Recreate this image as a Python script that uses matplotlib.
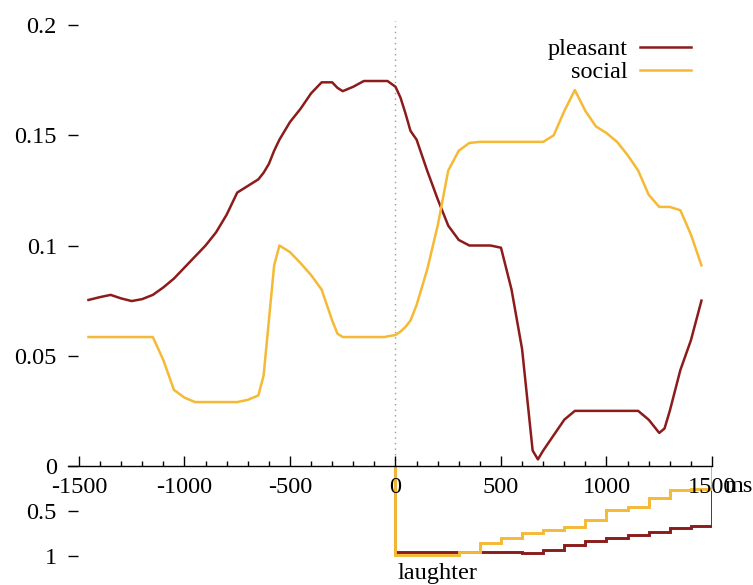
import numpy as np
import matplotlib
matplotlib.use("Agg")
import matplotlib.pyplot as plt

plt.rcParams['font.family'] = ['Liberation Serif', 'DejaVu Serif']
plt.rcParams['axes.unicode_minus'] = False

# time axis (ms) for the smoothed curves
t = [-1455, -1400, -1350, -1300, -1250, -1200, -1150, -1100, -1050, -1000,
     -950, -900, -850, -800, -750, -700, -650, -625, -600, -575, -550, -500,
     -450, -400, -350, -300, -275, -250, -200, -150, -100, -50, -38, 0, 24,
     47, 71, 100, 150, 200, 250, 300, 350, 400, 450, 500, 550, 600, 625, 650,
     675, 700, 750, 800, 850, 900, 950, 1000, 1050, 1100, 1150, 1200, 1250,
     1275, 1300, 1350, 1400, 1450]

pleasant = [0.0753, 0.0766, 0.0776, 0.076, 0.0748, 0.0757, 0.0776, 0.081,
            0.085, 0.090, 0.095, 0.100, 0.106, 0.114, 0.124, 0.127, 0.130,
            0.133, 0.137, 0.143, 0.148, 0.156, 0.162, 0.169, 0.174, 0.174,
            0.1715, 0.170, 0.172, 0.1746, 0.1746, 0.1746, 0.1746, 0.172,
            0.167, 0.160, 0.152, 0.148, 0.134, 0.121, 0.109, 0.1025, 0.100,
            0.100, 0.100, 0.099, 0.080, 0.053, 0.030, 0.007, 0.003, 0.007,
            0.014, 0.021, 0.025, 0.025, 0.025, 0.025, 0.025, 0.025, 0.025,
            0.021, 0.015, 0.017, 0.025, 0.0435, 0.057, 0.075]

social = [0.0585, 0.0585, 0.0585, 0.0585, 0.0585, 0.0585, 0.0585, 0.048,
          0.0345, 0.031, 0.029, 0.029, 0.029, 0.029, 0.029, 0.030, 0.032,
          0.041, 0.066, 0.091, 0.100, 0.097, 0.092, 0.0866, 0.080, 0.066,
          0.060, 0.0585, 0.0585, 0.0585, 0.0585, 0.0585, 0.0588, 0.0594,
          0.061, 0.063, 0.066, 0.073, 0.089, 0.109, 0.134, 0.143, 0.1465,
          0.147, 0.147, 0.147, 0.147, 0.147, 0.147, 0.147, 0.147, 0.147,
          0.150, 0.161, 0.1705, 0.161, 0.154, 0.151, 0.147, 0.141, 0.134,
          0.123, 0.1175, 0.1175, 0.1175, 0.116, 0.105, 0.091]

# laughter histograms, 100 ms bins from 0 to 1500
bin_edges = list(range(0, 1600, 100))
laugh_pleasant = [0.95, 0.95, 0.95, 0.95, 0.95, 0.95, 0.97, 0.93, 0.88,
                  0.83, 0.80, 0.77, 0.73, 0.69, 0.67]
laugh_social = [0.99, 0.99, 0.99, 0.95, 0.86, 0.80, 0.74, 0.71, 0.68,
                0.60, 0.49, 0.45, 0.36, 0.27, 0.25]

red = '#8c1c1c'
yellow = '#f5b935'
fs = 17.5

fig = plt.figure(figsize=(7.53, 5.85), dpi=100)
ax = fig.add_axes([68 / 753, 119 / 585, 644 / 753, 441 / 585])
axb = fig.add_axes([68 / 753, 0, 644 / 753, 119 / 585], sharex=ax)
axb.patch.set_visible(False)
ax.set_zorder(2)
ax.patch.set_visible(False)

ax.plot(t, pleasant, color=red, lw=1.8, label='pleasant')
ax.plot(t, social, color=yellow, lw=1.8, label='social')
ax.axvline(0, ymin=0, ymax=1.01, color='#999999', lw=1, ls=(0, (1, 3)),
           clip_on=False, zorder=0)

ax.set_xlim(-1552, 1500)
ax.set_ylim(0, 0.2)
for s in ['top', 'right', 'left']:
    ax.spines[s].set_visible(False)
ax.spines['bottom'].set_linewidth(1)
ax.set_xticks(range(-1500, 1501, 500))
ax.set_xticks(range(-1500, 1501, 100), minor=True)
ax.set_yticks([0, 0.05, 0.1, 0.15, 0.2])
ax.set_yticklabels(['0', '0.05', '0.1', '0.15', '0.2'])
ax.tick_params(axis='x', which='major', direction='in', length=7, width=1,
               labelsize=fs, pad=8)
ax.tick_params(axis='x', which='minor', direction='in', length=3.5, width=1)
ax.tick_params(axis='y', direction='in', length=7, width=1, labelsize=fs,
               pad=8)

leg = ax.legend(loc='upper right', bbox_to_anchor=(691 / 753, 1 - 38 / 585),
                bbox_transform=fig.transFigure, frameon=False,
                markerfirst=False, fontsize=fs, handlelength=2.1,
                handletextpad=0.5, labelspacing=0.05, borderpad=0,
                borderaxespad=0)

axb.stairs(laugh_pleasant, bin_edges, baseline=0, color=red, lw=2.1)
axb.stairs(laugh_social, bin_edges, baseline=0, color=yellow, lw=2.1)
axb.set_ylim(119 / 90, 0)
for s in axb.spines.values():
    s.set_visible(False)
axb.set_yticks([0.5, 1])
axb.set_yticklabels(['0.5', '1'])
axb.tick_params(axis='y', direction='in', length=7, width=1, labelsize=fs,
                pad=8)
axb.tick_params(axis='x', which='both', bottom=False, labelbottom=False)
axb.text(10, 1.19, 'laughter', fontsize=fs, ha='left', va='center')

fig.text(1.0, 1 - 487 / 585, 'ms', fontsize=fs, ha='right', va='center')

fig.savefig('out.png', dpi=100)
